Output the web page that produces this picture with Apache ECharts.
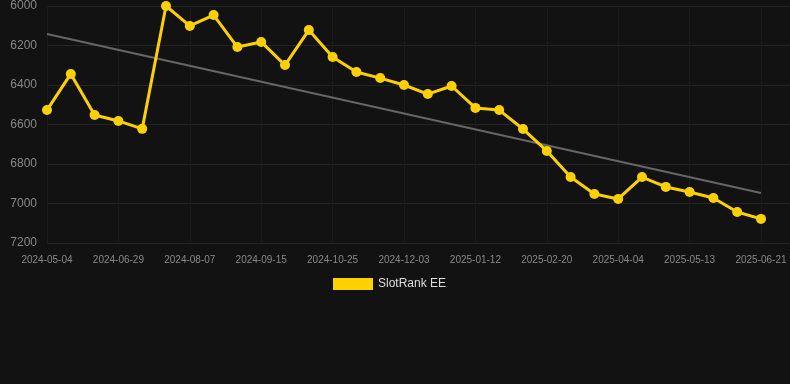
<!DOCTYPE html>
<html>
<head>
<meta charset="utf-8">
<script src="https://cdn.jsdelivr.net/npm/echarts@6/dist/echarts.min.js"></script>
<style>
html,body{margin:0;padding:0;background:#121212;}
#c{width:790px;height:384px;}
</style>
</head>
<body>
<div id="c"></div>
<script>
var categories = [
  '2024-05-04','2024-05-23','2024-06-11','2024-06-29','2024-07-12','2024-07-25',
  '2024-08-07','2024-08-20','2024-09-02','2024-09-15','2024-09-28','2024-10-12',
  '2024-10-25','2024-11-07','2024-11-20','2024-12-03','2024-12-16','2024-12-30',
  '2025-01-12','2025-01-25','2025-02-07','2025-02-20','2025-03-06','2025-03-20',
  '2025-04-04','2025-04-17','2025-04-30','2025-05-13','2025-05-26','2025-06-08',
  '2025-06-21'
];
var rankValues = [
  6527, 6344, 6552, 6582, 6622, 6000,
  6101, 6046, 6208, 6182, 6299, 6122,
  6258, 6334, 6365, 6400, 6446, 6405,
  6516, 6527, 6623, 6734, 6866, 6952,
  6977, 6866, 6916, 6942, 6972, 7043,
  7078
];
var trendStart = 6142;
var trendEnd = 6947;
var yTicks = { min: 6000, max: 7200, interval: 200 };

var chart = echarts.init(document.getElementById('c'), null, { renderer: 'canvas' });
chart.setOption({
  backgroundColor: '#121212',
  animation: false,
  grid: [
    { left: 47, right: 29, top: 6, bottom: 141, containLabel: false },
    { left: 47, right: 0, top: 6, bottom: 141, containLabel: false }
  ],
  legend: {
    data: ['SlotRank EE'],
    left: 328,
    top: 273,
    itemWidth: 40,
    itemHeight: 12,
    itemGap: 10,
    textStyle: { color: '#dddddd', fontSize: 12, fontFamily: 'Arial, Liberation Sans, sans-serif' },
    icon: 'rect'
  },
  xAxis: [
    {
      type: 'category',
      gridIndex: 0,
      data: categories,
      boundaryGap: false,
      axisLine: { show: false },
      axisTick: { show: false },
      axisLabel: {
        interval: 2,
        color: '#888888',
        fontSize: 10,
        margin: 12,
        fontFamily: 'Arial, Liberation Sans, sans-serif'
      },
      splitLine: { show: true, interval: 2, lineStyle: { color: '#1b1b1b', width: 1 } }
    },
    {
      type: 'value',
      gridIndex: 1,
      show: false,
      splitLine: { show: false }
    }
  ],
  yAxis: [
    {
      type: 'value',
      gridIndex: 0,
      inverse: true,
      min: yTicks.min,
      max: yTicks.max,
      interval: yTicks.interval,
      axisLine: { show: false },
      axisTick: { show: false },
      axisLabel: {
        color: '#888888',
        fontSize: 12,
        margin: 10,
        formatter: function (v) { return String(v); },
        fontFamily: 'Arial, Liberation Sans, sans-serif'
      },
      splitLine: { show: false }
    },
    {
      type: 'value',
      gridIndex: 1,
      inverse: true,
      min: yTicks.min,
      max: yTicks.max,
      interval: yTicks.interval,
      axisLine: { show: false },
      axisTick: { show: false },
      axisLabel: { show: false },
      splitLine: { show: true, lineStyle: { color: '#242424', width: 1 } }
    }
  ],
  series: [
    {
      name: 'Trend',
      type: 'line',
      xAxisIndex: 0,
      yAxisIndex: 0,
      data: [[categories[0], trendStart], [categories[categories.length - 1], trendEnd]],
      symbol: 'none',
      lineStyle: { color: '#666666', width: 2 },
      silent: true,
      z: 2
    },
    {
      name: 'SlotRank EE',
      type: 'line',
      xAxisIndex: 0,
      yAxisIndex: 0,
      data: rankValues,
      symbol: 'circle',
      symbolSize: 10,
      itemStyle: { color: '#FFD000' },
      lineStyle: { color: '#FFD000', width: 3 },
      z: 3
    }
  ]
});
</script>
</body>
</html>
